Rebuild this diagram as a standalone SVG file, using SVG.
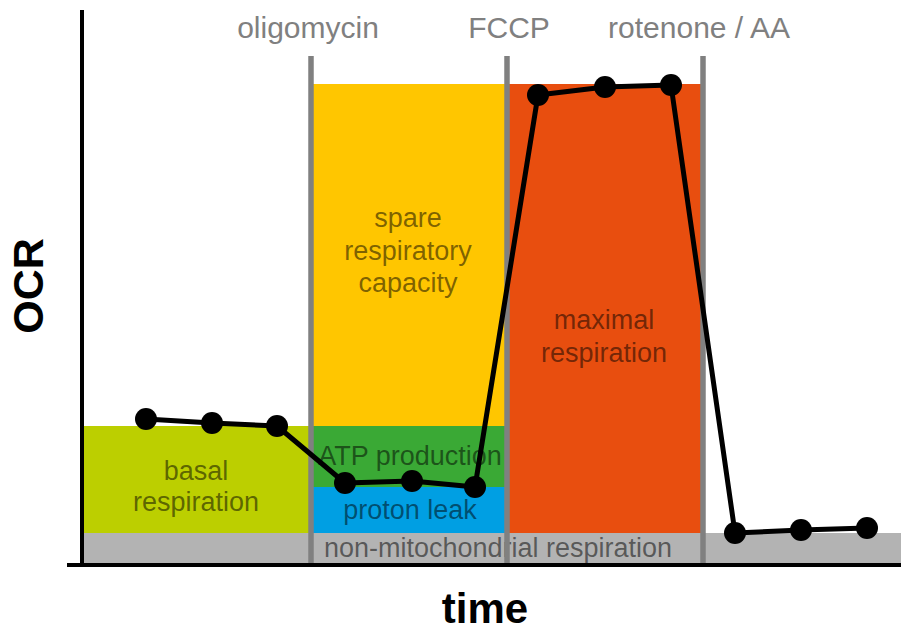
<svg xmlns="http://www.w3.org/2000/svg" width="901" height="631" viewBox="0 0 901 631">
<style>
.lbl{font-family:"Liberation Sans",Arial,sans-serif;font-size:27px;fill:#000;fill-opacity:0.52;text-anchor:middle}
.top{font-family:"Liberation Sans",Arial,sans-serif;font-size:30px;fill:#808080;text-anchor:middle}
.ax{font-family:"Liberation Sans",Arial,sans-serif;font-size:42px;font-weight:bold;fill:#000;text-anchor:middle}
.inj{stroke:#808080;stroke-width:5.5;fill:none}
.pt{fill:#000}
</style>
<rect width="901" height="631" fill="#fff"/>
<g id="bands">
  <rect id="nonmito" x="84" y="533" width="817" height="30" fill="#b3b3b3"/>
  <rect id="basal" x="84" y="426" width="225" height="107" fill="#bccf00"/>
  <rect id="spare" x="313" y="84" width="192" height="342" fill="#ffc600"/>
  <rect id="atp" x="313" y="426" width="192" height="61" fill="#3aa935"/>
  <rect id="leak" x="313" y="487" width="192" height="46" fill="#009fe3"/>
  <rect id="maximal" x="509" y="84" width="192" height="449" fill="#e84e0f"/>
</g>
<g id="labels">
  <text class="lbl" x="196" y="480">basal</text>
  <text class="lbl" x="196" y="511">respiration</text>
  <text class="lbl" x="408" y="227">spare</text>
  <text class="lbl" x="408" y="260">respiratory</text>
  <text class="lbl" x="408" y="292">capacity</text>
  <text class="lbl" x="410" y="465">ATP production</text>
  <text class="lbl" x="410" y="519">proton leak</text>
  <text class="lbl" x="604" y="329">maximal</text>
  <text class="lbl" x="604" y="362">respiration</text>
  <text class="lbl" x="498" y="557">non-mitochondrial respiration</text>
</g>
<g id="injections">
  <line class="inj" x1="311" y1="56" x2="311" y2="563"/>
  <line class="inj" x1="507" y1="56" x2="507" y2="563"/>
  <line class="inj" x1="703" y1="56" x2="703" y2="563"/>
  <text class="top" x="308" y="38">oligomycin</text>
  <text class="top" x="509" y="38">FCCP</text>
  <text class="top" x="699" y="38">rotenone / AA</text>
</g>
<g id="axes">
  <line x1="82" y1="10" x2="82" y2="566" stroke="#000" stroke-width="4"/>
  <line x1="67" y1="565" x2="901" y2="565" stroke="#000" stroke-width="4"/>
  <text class="ax" x="485" y="623">time</text>
  <text class="ax" transform="translate(43,286) rotate(-90)" x="0" y="0" style="font-size:43px">OCR</text>
</g>
<g id="connectors">
  <polyline points="146,419 212,423 277,426 345,483 412,481 475,487 538,95 605,87 671,85 735,533 801,530 867,528" fill="none" stroke="#000" stroke-width="5" stroke-linejoin="round"/>
</g>
<g id="points">
  <circle class="pt" cx="146" cy="419" r="11"/>
  <circle class="pt" cx="212" cy="423" r="11"/>
  <circle class="pt" cx="277" cy="426" r="11"/>
  <circle class="pt" cx="345" cy="483" r="11"/>
  <circle class="pt" cx="412" cy="481" r="11"/>
  <circle class="pt" cx="475" cy="487" r="11"/>
  <circle class="pt" cx="538" cy="95" r="11"/>
  <circle class="pt" cx="605" cy="87" r="11"/>
  <circle class="pt" cx="671" cy="85" r="11"/>
  <circle class="pt" cx="735" cy="533" r="11"/>
  <circle class="pt" cx="801" cy="530" r="11"/>
  <circle class="pt" cx="867" cy="528" r="11"/>
</g>
</svg>
